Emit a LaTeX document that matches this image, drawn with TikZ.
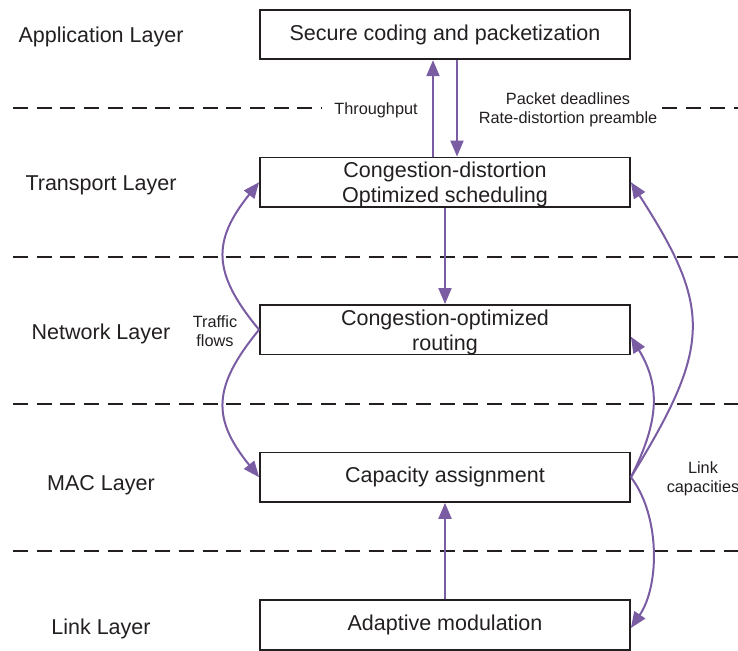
\documentclass[tikz,border=0pt]{standalone}
\usepackage{fontspec}
\setmainfont{Liberation Sans}
\usetikzlibrary{arrows.meta}
\definecolor{ink}{HTML}{231F20}
\definecolor{flow}{HTML}{7A5CA3}
\begin{document}
\begin{tikzpicture}[x=1pt,y=-1pt,
  layerbox/.style={draw=ink, line width=1.8pt, minimum width=370pt, minimum height=49.5pt,
    inner sep=0pt, align=center, text=ink, font=\fontsize{21.5}{25}\selectfont},
  boxtext/.style={inner sep=0pt, align=center, text=ink, font=\fontsize{21.5}{25}\selectfont},
  layername/.style={text=ink, inner sep=0pt, font=\fontsize{21.5}{25}\selectfont},
  note/.style={text=ink, align=center, inner sep=0pt, font=\fontsize{16.3}{18.5}\selectfont},
  sep/.style={draw=ink, line width=1.8pt, dash pattern=on 15pt off 8.7pt},
  flowarrow/.style={draw=flow, line width=2pt, -{Triangle[length=16pt,width=13pt]}}
]
\useasboundingbox (0,0) rectangle (738,650);

% protocol stack boxes
\node[layerbox] (app) at (445,34.5)  {Secure coding and packetization};
\node[layerbox] (tra) at (445,182.2) {};
\node[layerbox] (net) at (445,329.7) {};
\node[layerbox] (mac) at (445,477.2) {Capacity assignment};
\node[layerbox] (lnk) at (445,625)   {Adaptive modulation};
\node[boxtext] (tratext) at ([yshift=-2.5pt]tra.center) {Congestion-distortion\\Optimized scheduling};
\node[boxtext] (nettext) at ([yshift=-2.5pt]net.center) {Congestion-optimized\\routing};

% layer names
\node[layername] (lapp) at (101,36.5)  {Application Layer};
\node[layername] (ltra) at (101,185.5) {Transport Layer};
\node[layername] (lnet) at (101,333.5) {Network Layer};
\node[layername] (lmac) at (101,485.5) {MAC Layer};
\node[layername] (llnk) at (101,628.5) {Link Layer};

% annotations
\node[note] (thr)  at (376,110) {Throughput};
\node[note] (pkt)  at (568,110) {Packet deadlines\\Rate-distortion preamble};
\node[note] (traf) at (215,331) {Traffic\\flows};
\node[note] (capa) at (703,479) {Link\\capacities};

% layer separators
\draw[sep] (13,108) -- ([xshift=-12pt]thr.west |- 0,108);
\draw[sep] ([xshift=5pt]pkt.east |- 0,108) -- (738,108);
\draw[sep] (13,257) -- (738,257);
\draw[sep] (13,404) -- (738,404);
\draw[sep] (13,551) -- (738,551);

% vertical exchanges
\draw[flowarrow] ([xshift=-12pt]tra.north) -- ([xshift=-12pt]app.south);
\draw[flowarrow] ([xshift=12pt]app.south) -- ([xshift=12pt]tra.north);
\draw[flowarrow] (tra.south) -- (net.north);
\draw[flowarrow] (lnk.north) -- (mac.south);

% traffic flows
\draw[flowarrow] (net.west) .. controls (212,273) and (212,241) .. (tra.west);
\draw[flowarrow] (net.west) .. controls (212,387) and (212,419) .. (mac.west);

% link capacities
\draw[flowarrow] (mac.east) .. controls (712,346) and (712,308) .. (tra.east);
\draw[flowarrow] (mac.east) .. controls (660,420) and (660,385) .. ([yshift=-7pt]net.east);
\draw[flowarrow] (mac.east) .. controls (660,515) and (660,585) .. ([yshift=-3pt]lnk.east);
\end{tikzpicture}
\end{document}
